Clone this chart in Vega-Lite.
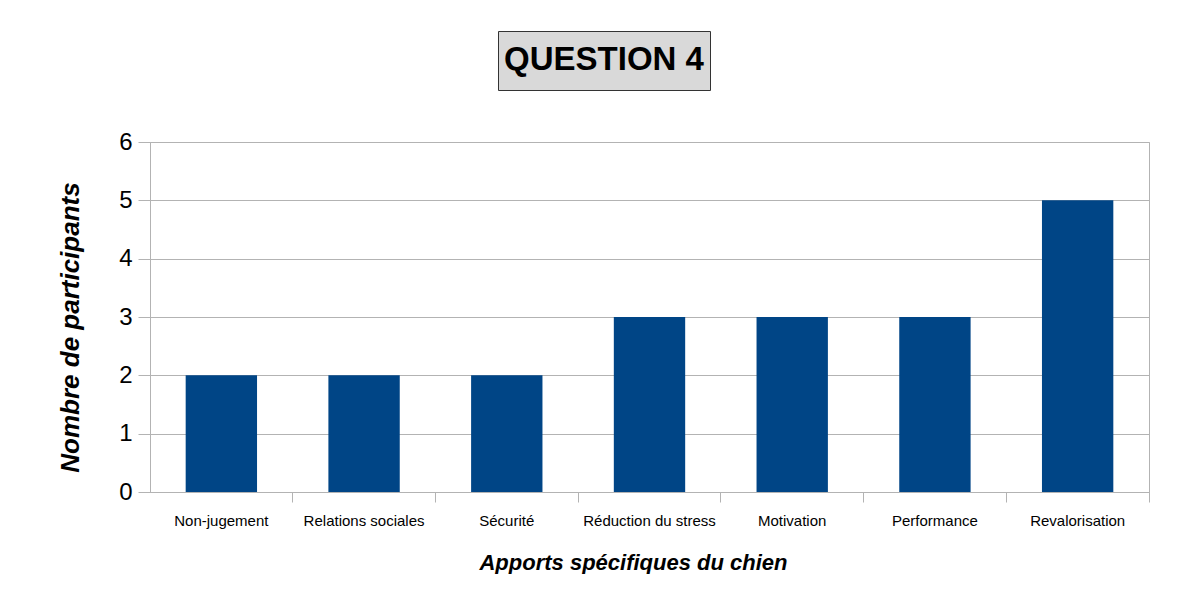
{
  "$schema": "https://vega.github.io/schema/vega-lite/v6.json",
  "background": "white",
  "padding": {"left": 57, "top": 30, "right": 0, "bottom": 0},
  "config": {"font": "Liberation Sans", "view": {"stroke": null}},
  "center": false,
  "spacing": 38,
  "vconcat": [
    {
      "spacing": 0,
      "hconcat": [
        {
          "width": 347,
          "height": 59,
          "data": {"values": []},
          "mark": {"type": "text"},
          "encoding": {}
        },
        {
          "width": 212,
          "height": 59,
          "view": {"fill": "#d9d9d9", "stroke": "#333333", "strokeWidth": 1},
          "data": {"values": [{"titre": "QUESTION 4"}]},
          "mark": {"type": "text", "font": "Liberation Sans", "fontSize": 33, "fontWeight": "bold", "color": "black", "dy": -1},
          "encoding": {"text": {"field": "titre", "type": "nominal"}}
        }
      ]
    },
    {
      "width": 999,
      "height": 350,
      "view": {"stroke": "#b3b3b3", "strokeWidth": 1},
      "data": {"values": [
        {"apport": "Non-jugement", "n": 2},
        {"apport": "Relations sociales", "n": 2},
        {"apport": "Sécurité", "n": 2},
        {"apport": "Réduction du stress", "n": 3},
        {"apport": "Motivation", "n": 3},
        {"apport": "Performance", "n": 3},
        {"apport": "Revalorisation", "n": 5}
      ]},
      "mark": {"type": "bar", "color": "#004586"},
      "encoding": {
        "x": {
          "field": "apport", "type": "nominal", "sort": null,
          "scale": {"paddingInner": 0.5, "paddingOuter": 0.25},
          "axis": {
            "title": "Apports spécifiques du chien",
            "titleFont": "Liberation Sans", "titleFontSize": 22, "titleFontWeight": "bold", "titleFontStyle": "italic",
            "titleColor": "black", "titlePadding": 24, "titleX": 483,
            "labelAngle": 0, "labelFontSize": 15, "labelColor": "black", "labelPadding": 11,
            "bandPosition": 1.5, "tickSize": 10, "tickColor": "#b3b3b3",
            "domainColor": "#b3b3b3", "grid": false
          }
        },
        "y": {
          "field": "n", "type": "quantitative",
          "scale": {"domain": [0, 6], "nice": false},
          "axis": {
            "title": "Nombre de participants",
            "titleFont": "Liberation Sans", "titleFontSize": 26, "titleFontWeight": "bold", "titleFontStyle": "italic",
            "titleColor": "black", "titlePadding": 35, "titleY": 185,
            "values": [0, 1, 2, 3, 4, 5, 6],
            "labelFontSize": 24, "labelColor": "black", "labelPadding": 6,
            "tickSize": 12, "tickColor": "#b3b3b3",
            "domainColor": "#b3b3b3", "grid": true, "gridColor": "#b3b3b3"
          }
        }
      }
    }
  ]
}
